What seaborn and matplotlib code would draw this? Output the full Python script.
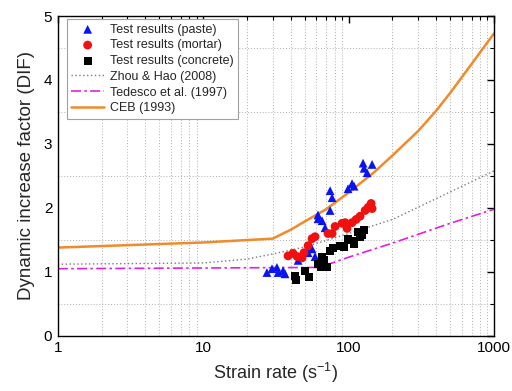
import numpy as np
import pandas as pd
import matplotlib
matplotlib.use("Agg")
import matplotlib.pyplot as plt
import seaborn as sns
from matplotlib.ticker import LogLocator, FixedLocator, NullFormatter, MultipleLocator

# ---- data ----
paste_rate = [27.4, 29.7, 32.1, 32.7, 36.5, 35.4, 44.9, 52.6, 56.0, 58.7, 61.5, 65.6,
              68.8, 61.5, 74.5, 74.5, 76.9, 99.0, 105.5, 108.9, 125.6, 133.9, 144.9, 127.6]
paste_dif = [0.99, 1.05, 1.07, 0.99, 0.97, 1.02, 1.18, 1.30, 1.36, 1.24, 1.83, 1.80,
             1.69, 1.89, 1.96, 2.27, 2.16, 2.30, 2.38, 2.34, 2.70, 2.55, 2.68, 2.62]

mortar_rate = [38.3, 41.4, 44.2, 47.8, 49.3, 52.6, 56.0, 58.7, 72.1, 76.9, 80.6, 90.1,
               94.4, 97.5, 105.5, 112.5, 119.8, 129.7, 136.2, 142.6, 144.9]
mortar_dif = [1.25, 1.29, 1.24, 1.22, 1.30, 1.41, 1.52, 1.55, 1.60, 1.60, 1.71, 1.76,
              1.77, 1.68, 1.77, 1.82, 1.87, 1.96, 2.01, 2.07, 1.99]

concrete_rate = [42.8, 43.5, 50.1, 53.4, 61.5, 64.6, 67.7, 65.6, 71.0, 74.5, 78.1, 87.2,
                 93.0, 99.0, 105.5, 108.9, 116.1, 123.6, 119.8, 127.6]
concrete_dif = [0.94, 0.88, 1.02, 0.92, 1.13, 1.07, 1.18, 1.24, 1.08, 1.33, 1.38, 1.41,
                1.39, 1.52, 1.49, 1.44, 1.63, 1.58, 1.54, 1.65]

zhou_rate = [1, 10, 20, 30, 50, 100, 200, 500, 1000]
zhou_dif = [1.12, 1.14, 1.20, 1.28, 1.39, 1.60, 1.82, 2.25, 2.58]

tedesco_rate = [1, 63, 100, 200, 500, 1000]
tedesco_dif = [1.05, 1.07, 1.23, 1.45, 1.76, 1.98]

ceb_rate = [1, 10, 30, 40, 50, 70, 100, 150, 200, 300, 400, 500, 700, 1000]
ceb_dif = [1.38, 1.46, 1.52, 1.66, 1.79, 1.98, 2.24, 2.56, 2.82, 3.20, 3.52, 3.80, 4.25, 4.73]

x_ticks = [1, 10, 100, 1000]
x_tick_labels = ["1", "10", "100", "1000"]
y_ticks = [0, 1, 2, 3, 4, 5]

# ---- style ----
sns.set_style("white")
plt.rcParams["font.family"] = ["Liberation Sans", "DejaVu Sans"]
plt.rcParams["mathtext.fontset"] = "custom"
plt.rcParams["mathtext.rm"] = "Liberation Sans"

fig = plt.figure(figsize=(5.12, 3.91), dpi=100)
ax = fig.add_axes([0.113, 0.141, 0.852, 0.818])

sns.scatterplot(x=paste_rate, y=paste_dif, ax=ax, marker="^", color="#0a14f0",
                s=40, edgecolor="none", label="Test results (paste)", zorder=5)
sns.scatterplot(x=mortar_rate, y=mortar_dif, ax=ax, marker="o", color="#f01010",
                s=40, edgecolor="none", label="Test results (mortar)", zorder=5)
sns.scatterplot(x=concrete_rate, y=concrete_dif, ax=ax, marker="s", color="black",
                s=32, edgecolor="none", label="Test results (concrete)", zorder=5)

sns.lineplot(x=zhou_rate, y=zhou_dif, ax=ax, color="#7a7a7a", lw=1.0,
             linestyle=(0, (1, 1.8)), label="Zhou & Hao (2008)", sort=False, estimator=None)
sns.lineplot(x=tedesco_rate, y=tedesco_dif, ax=ax, color="#e020e0", lw=1.2,
             linestyle=(0, (6, 2, 1.5, 2)), label="Tedesco et al. (1997)", sort=False, estimator=None)
sns.lineplot(x=ceb_rate, y=ceb_dif, ax=ax, color="#f08a2a", lw=1.8,
             label="CEB (1993)", sort=False, estimator=None)

ax.set_xscale("log")
ax.set_xlim(1, 1000)
ax.set_ylim(0, 5)
ax.xaxis.set_major_locator(FixedLocator(x_ticks))
ax.set_xticklabels(x_tick_labels)
ax.xaxis.set_minor_locator(LogLocator(base=10, subs=np.arange(2, 10)))
ax.xaxis.set_minor_formatter(NullFormatter())
ax.yaxis.set_major_locator(FixedLocator(y_ticks))
ax.yaxis.set_minor_locator(MultipleLocator(0.5))

ax.grid(False)
ax.grid(True, which="minor", axis="both", color="#b0b0b0", linestyle=(0, (1, 2)), lw=0.7)

ax.tick_params(which="both", direction="in", top=True, right=True, labelsize=11,
               colors="black", pad=4)
ax.tick_params(which="major", length=5, width=1)
ax.tick_params(which="minor", length=3, width=0.8)
for sp in ax.spines.values():
    sp.set_color("black")
    sp.set_linewidth(1.0)

ax.set_xlabel("Strain rate (s$^{\\mathregular{-1}}$)", fontsize=13, labelpad=4)
ax.set_ylabel("Dynamic increase factor (DIF)", fontsize=13.5, labelpad=6)

leg = ax.legend(loc="upper left", bbox_to_anchor=(0.021, 0.99), fontsize=9,
                frameon=True, fancybox=False, edgecolor="#a0a0a0", framealpha=1,
                handlelength=2.6, borderpad=0.35, labelspacing=0.3, handletextpad=0.5,
                borderaxespad=0.0)
leg.get_frame().set_linewidth(0.8)

fig.savefig("out.png", dpi=100)
